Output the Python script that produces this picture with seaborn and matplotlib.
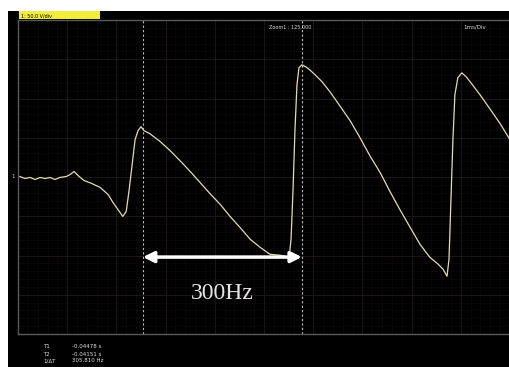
import matplotlib
matplotlib.use("Agg")
import matplotlib.pyplot as plt
import seaborn as sns
import pandas as pd
import numpy as np
from matplotlib.patches import Rectangle

# ---- data (time in ms, voltage in V; 50 V/div, 1 ms/div)
time_ms = [0.04, 0.14, 0.24, 0.35, 0.45, 0.55, 0.65, 0.75, 0.85, 0.98, 1.06, 1.14, 1.22,
           1.34, 1.50, 1.67, 1.83, 1.93, 2.03, 2.13, 2.20, 2.26, 2.32, 2.38, 2.44, 2.50,
           2.56, 2.68, 2.89, 3.09, 3.29, 3.50, 3.70, 3.90, 4.11, 4.31, 4.51, 4.72, 4.92,
           5.12, 5.33, 5.51, 5.55, 5.59, 5.63, 5.67, 5.71, 5.77, 5.85, 5.93, 6.06, 6.18,
           6.34, 6.54, 6.75, 6.95, 7.15, 7.36, 7.56, 7.76, 7.97, 8.17, 8.37, 8.54, 8.64,
           8.72, 8.76, 8.80, 8.84, 8.88, 8.94, 9.02, 9.11, 9.19, 9.39, 9.59, 9.80, 10.0]
volts = [0.6, -1.9, -0.6, -3.2, -0.6, -1.9, -0.6, -3.2, -0.6, 0.6, 3.2, 7.0, 1.9,
         -4.4, -8.3, -13.3, -22.2, -32.4, -41.3, -50.2, -43.8, -15.9, 15.9, 47.6, 59.1, 64.1,
         59.1, 55.2, 45.1, 33.7, 21.0, 7.0, -7.0, -21.0, -34.9, -50.2, -64.1, -79.4, -89.5,
         -98.4, -99.7, -102.2, -79.4, -15.9, 60.3, 117.5, 139.1, 142.9, 140.3, 136.5, 128.9, 121.3,
         108.6, 90.8, 71.8, 50.2, 27.3, 5.7, -18.4, -41.3, -64.1, -85.7, -102.2, -111.1, -117.5,
         -126.4, -104.8, -28.6, 47.6, 104.8, 126.4, 132.7, 127.6, 121.3, 104.8, 87.0, 67.9, 47.6]

cursor_ms = [2.54, 5.77]
cursor_labels = ["T1", "T2", "1/\u0394T"]
cursor_values = ["-0.04478 s", "-0.04151 s", "305.810 Hz"]
annotation = "300Hz"

W, H = 510, 367
fig = plt.figure(figsize=(W / 100, H / 100), dpi=100, facecolor="white")

# black screen panel (background axes)
bg = fig.add_axes([8 / W, 0, 1 - 8 / W, (H - 11) / H], zorder=-5)
bg.set_facecolor("black")
bg.set_xticks([])
bg.set_yticks([])
for s in bg.spines.values():
    s.set_visible(False)

# yellow channel header
fig.patches.append(Rectangle((19 / W, (H - 19) / H), 81 / W, 8 / H, transform=fig.transFigure,
                             facecolor="#f2ec3a", edgecolor="none", zorder=3))
fig.text(21 / W, (H - 15.5) / H, "1: 50.0 V/div", fontsize=3.5, color="black", va="center",
         ha="left", zorder=4)

ax = fig.add_axes([18 / W, (H - 334) / H, (W - 18) / W, (334 - 20) / H], zorder=1)
ax.set_facecolor("black")
ax.set_xlim(0, 10)
ax.set_ylim(-200, 200)

# grid
for x in np.arange(0, 10.01, 0.2):
    ax.axvline(x, color="#0f0c0c", lw=0.4, zorder=1)
for y in np.arange(-200, 200.1, 10):
    ax.axhline(y, color="#0f0c0c", lw=0.4, zorder=1)
for x in np.arange(0, 10.01, 1):
    ax.axvline(x, color="#201919", lw=0.6, zorder=1)
for y in np.arange(-200, 200.1, 50):
    ax.axhline(y, color="#201919", lw=0.6, zorder=1)

# cursors
for c in cursor_ms:
    ax.axvline(c, color="#bdbdbd", lw=0.8, ls=(0, (2, 2)), zorder=2)

df = pd.DataFrame({"time_ms": time_ms, "volts": volts})
sns.lineplot(data=df, x="time_ms", y="volts", ax=ax, color="#e2ddb0", lw=0.9,
             estimator=None, sort=False, zorder=3)

ax.annotate("", xy=(cursor_ms[0], -102), xytext=(cursor_ms[1], -102),
            arrowprops=dict(arrowstyle="<|-|>", color="white", lw=2.5, mutation_scale=16,
                            shrinkA=0, shrinkB=0), zorder=5)
ax.text((cursor_ms[0] + cursor_ms[1]) / 2, -148, annotation, family="Liberation Serif",
        fontsize=17, color="#e6e6e6", ha="center", va="center", zorder=5)

ax.text(0.51, 0.985, "Zoom1 : 125.000", transform=ax.transAxes, fontsize=3.5, color="#dddddd",
        ha="left", va="top")
ax.text(0.905, 0.985, "1ms/Div", transform=ax.transAxes, fontsize=4, color="#dddddd",
        ha="left", va="top")

ax.set_xticks([])
ax.set_yticks([])
ax.set_xlabel("")
ax.set_ylabel("")
for side in ["left", "top", "bottom"]:
    ax.spines[side].set_color("#5a5a5a")
    ax.spines[side].set_linewidth(1.0)
ax.spines["right"].set_visible(False)

# channel marker on the left
fig.text(13 / W, (H - 176) / H, "1", fontsize=4, color="#d8d070", ha="center", va="center")

# cursor readout
for i, (lab, val) in enumerate(zip(cursor_labels, cursor_values)):
    yy = (H - (347 + 7 * i)) / H
    fig.text(43 / W, yy, lab, fontsize=4, color="#e0e0e0", ha="left", va="center")
    fig.text(72 / W, yy, val, fontsize=4, color="#e0e0e0", ha="left", va="center")

fig.savefig("out.png", dpi=100, facecolor="white")
